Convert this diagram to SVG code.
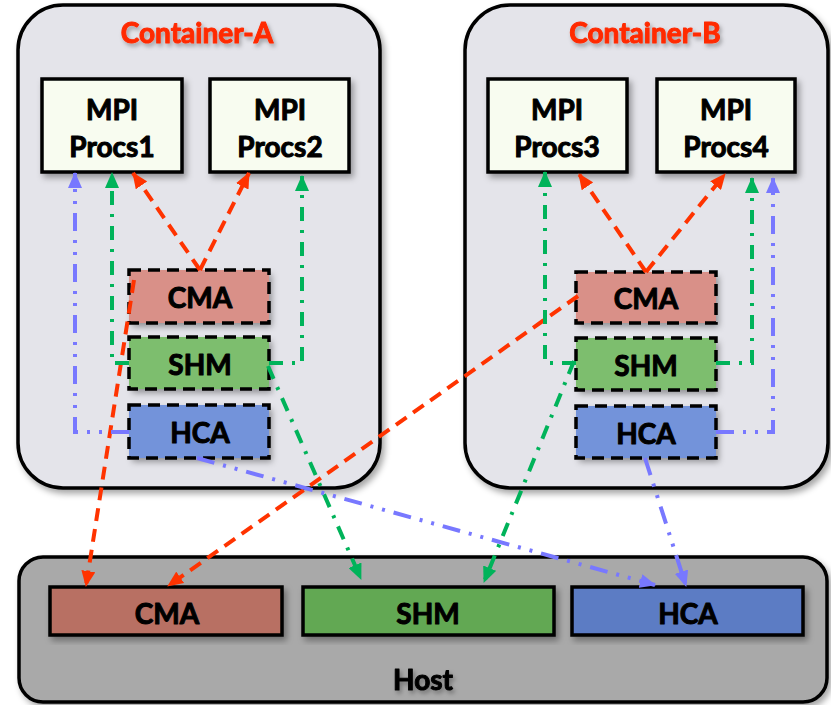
<svg xmlns="http://www.w3.org/2000/svg" width="831" height="705" viewBox="0 0 831 705">
<defs>
<filter id="sh" x="-20%" y="-20%" width="140%" height="140%"><feDropShadow dx="3" dy="4" stdDeviation="3" flood-color="#000" flood-opacity="0.35"/></filter>
<filter id="tsh" x="-20%" y="-20%" width="140%" height="160%"><feDropShadow dx="2" dy="3" stdDeviation="2" flood-color="#000" flood-opacity="0.3"/></filter>
<marker id="ar" viewBox="0 0 16 14" refX="15" refY="7" markerWidth="16" markerHeight="14" markerUnits="userSpaceOnUse" orient="auto"><path d="M0,0 L16,7 L0,14 z" fill="#ff3300"/></marker>
<marker id="ag" viewBox="0 0 16 14" refX="15" refY="7" markerWidth="16" markerHeight="14" markerUnits="userSpaceOnUse" orient="auto"><path d="M0,0 L16,7 L0,14 z" fill="#00b35a"/></marker>
<marker id="ab" viewBox="0 0 16 14" refX="15" refY="7" markerWidth="16" markerHeight="14" markerUnits="userSpaceOnUse" orient="auto"><path d="M0,0 L16,7 L0,14 z" fill="#7878ff"/></marker>
</defs>
<style>
text{font-family:Lato,"Open Sans","Liberation Sans",sans-serif;font-weight:bold;text-anchor:middle;font-size:28px;fill:#000;stroke:#000;stroke-width:1;stroke-linejoin:round}
.cont{fill:#e4e4ea;stroke:#000;stroke-width:3.5}
text.title{fill:#ff2a00;stroke:#ff2a00}
.mpi{fill:#f8fcf0;stroke:#000;stroke-width:3.5}
.dash{stroke:#000;stroke-width:3.5;stroke-dasharray:12 7}
.cma{fill:#d99088}.shm{fill:#7dbe6e}.hca{fill:#7393da}
.hcma{fill:#b87064}.hshm{fill:#62a852}.hhca{fill:#5c7cc4}
.hb{stroke:#000;stroke-width:3.5}
.host{fill:#a9a9a9;stroke:#000;stroke-width:3.5}
.r{fill:none;stroke:#ff3300;stroke-width:4;stroke-dasharray:13 8}
.g{fill:none;stroke:#00b35a;stroke-width:4;stroke-dasharray:14 9 3 9}
.b{fill:none;stroke:#7878ff;stroke-width:4;stroke-dasharray:18 9 3 9 3 9}
</style>
<g id="container-a">
<rect class="cont" x="18" y="5" width="362" height="483" rx="45" filter="url(#sh)"/>
<text class="title" x="197" y="43" filter="url(#tsh)">Container-A</text>
</g>
<g id="container-b">
<rect class="cont" x="465" y="5" width="363" height="483" rx="45" filter="url(#sh)"/>
<text class="title" x="645" y="43" filter="url(#tsh)">Container-B</text>
</g>
<g id="host">
<rect class="host" x="19" y="557" width="808" height="145" rx="24" filter="url(#sh)"/>
<text x="423" y="690" filter="url(#tsh)">Host</text>
</g>
<g id="procs1"><rect class="mpi" x="42" y="79" width="140" height="93" filter="url(#sh)"/><text x="112" y="120">MPI</text><text x="112" y="157">Procs1</text></g>
<g id="procs2"><rect class="mpi" x="210" y="79" width="139" height="93" filter="url(#sh)"/><text x="280" y="120">MPI</text><text x="280" y="157">Procs2</text></g>
<g id="procs3"><rect class="mpi" x="488" y="79" width="139" height="93" filter="url(#sh)"/><text x="557" y="120">MPI</text><text x="557" y="157">Procs3</text></g>
<g id="procs4"><rect class="mpi" x="657" y="79" width="138" height="93" filter="url(#sh)"/><text x="726" y="120">MPI</text><text x="726" y="157">Procs4</text></g>
<g id="cma-a"><rect class="cma" x="129" y="270" width="140" height="53" filter="url(#sh)"/><rect class="dash" fill="none" x="129" y="270" width="140" height="53"/><text x="200" y="308">CMA</text></g>
<g id="shm-a"><rect class="shm" x="129" y="337" width="140" height="52" filter="url(#sh)"/><rect class="dash" fill="none" x="129" y="337" width="140" height="52"/><text x="200" y="375">SHM</text></g>
<g id="hca-a"><rect class="hca" x="129" y="405" width="140" height="53" filter="url(#sh)"/><rect class="dash" fill="none" x="129" y="405" width="140" height="53"/><text x="200" y="443">HCA</text></g>
<g id="cma-b"><rect class="cma" x="576" y="272" width="140" height="51" filter="url(#sh)"/><rect class="dash" fill="none" x="576" y="272" width="140" height="51"/><text x="646" y="309">CMA</text></g>
<g id="shm-b"><rect class="shm" x="576" y="338" width="140" height="52" filter="url(#sh)"/><rect class="dash" fill="none" x="576" y="338" width="140" height="52"/><text x="646" y="376">SHM</text></g>
<g id="hca-b"><rect class="hca" x="576" y="406" width="140" height="52" filter="url(#sh)"/><rect class="dash" fill="none" x="576" y="406" width="140" height="52"/><text x="646" y="444">HCA</text></g>
<g id="host-cma"><rect class="hcma hb" x="50" y="587" width="232" height="48" filter="url(#sh)"/><text x="167" y="624">CMA</text></g>
<g id="host-shm"><rect class="hshm hb" x="303" y="587" width="251" height="48" filter="url(#sh)"/><text x="428" y="624">SHM</text></g>
<g id="host-hca"><rect class="hhca hb" x="572" y="587" width="231" height="48" filter="url(#sh)"/><text x="688" y="624">HCA</text></g>
<g id="connectors">
<path class="r" d="M200,270 L133,173" marker-end="url(#ar)"/>
<path class="r" d="M200,270 L249,173" marker-end="url(#ar)"/>
<path class="r" d="M646,272 L579,174" marker-end="url(#ar)"/>
<path class="r" d="M646,272 L725,174" marker-end="url(#ar)"/>
<path class="r" d="M134,280 L86,586" marker-end="url(#ar)"/>
<path class="r" d="M578,296 L168,586" marker-end="url(#ar)"/>
<path class="g" d="M129,363 L112,363 L112,173" marker-end="url(#ag)"/>
<path class="g" d="M269,363 L302,363 L302,176" marker-end="url(#ag)"/>
<path class="g" d="M268,366 L361,579" marker-end="url(#ag)"/>
<path class="g" d="M576,363 L545,363 L545,172" marker-end="url(#ag)"/>
<path class="g" d="M716,363 L752,363 L752,178" marker-end="url(#ag)"/>
<path class="g" d="M574,361 L484,582" marker-end="url(#ag)"/>
<path class="b" d="M129,432 L75,432 L75,173" marker-end="url(#ab)"/>
<path class="b" d="M716,432 L773,432 L773,178" marker-end="url(#ab)"/>
<path class="b" d="M197,458 L655,585" marker-end="url(#ab)"/>
<path class="b" d="M645,458 L686,586" marker-end="url(#ab)"/>
</g>
</svg>
